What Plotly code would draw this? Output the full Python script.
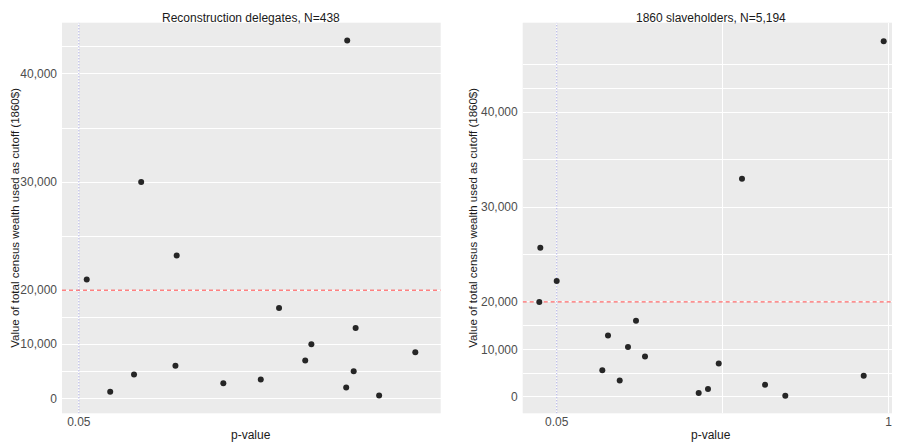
import numpy as np
import plotly.graph_objects as go

# ---------------- data ----------------
panel_titles = ["Reconstruction delegates, N=438", "1860 slaveholders, N=5,194"]

delegates_p = [0.0594, 0.0873, 0.1156, 0.1241, 0.1663, 0.1648, 0.2217, 0.2662, 0.2879,
               0.3190, 0.3263, 0.3689, 0.3677, 0.3789, 0.3766, 0.4068, 0.4498]
delegates_cutoff = [21000, 1200, 4400, 30000, 23200, 6000, 2800, 3500, 16700,
                    7000, 10000, 43100, 2000, 13000, 5000, 500, 8500]

slave_p = [0.0031, 0.0002, 0.0500, 0.1805, 0.1968, 0.2303, 0.2540, 0.2769, 0.3027,
           0.4563, 0.4829, 0.5136, 0.5802, 0.6461, 0.7041, 0.9285, 0.9857]
slave_cutoff = [25700, 20000, 22200, 5600, 12900, 3400, 10500, 16000, 8500,
                800, 1600, 7000, 33000, 2500, 200, 4400, 47500]

y_tick_values = [0, 10000, 20000, 30000, 40000]
y_tick_labels = ["0", "10,000", "20,000", "30,000", "40,000"]
y_minor_values = [5000, 15000, 25000, 35000, 42500, 45000]
x_tick_values = [0.05, 1]
x_tick_labels = ["0.05", "1"]
x_minor_values = [0.525]
cutoff_line = 20000
p_line = 0.05

x1_range = [0.030017, 0.47998]
x2_range = [-0.04729, 1.03233]
y1_range = [-2775, 69490]
y2_range = [-3502, 78900]


def to_display(v):
    """Axis of the reference: linear up to 20,000, double spacing above."""
    v = np.asarray(v, dtype=float)
    return np.where(v <= 20000, v, 2 * v - 20000)


# page body has an 8px margin: figure is drawn at (8, 8)
OFF = 8
W, H = 900 - OFF, 445 - OFF


def px_x(X):
    return (X - OFF) / W


def px_y(Y):
    return 1 - (Y - OFF) / H


FONT = "Liberation Sans, Arial, Helvetica, sans-serif"
PANEL_BG = "#EBEBEB"
TICK_COL = "#4D4D4D"
TITLE_COL = "#1A1A1A"

ydom = [px_y(413.3), px_y(22.7)]
x1dom = [px_x(62), px_x(440.7)]
x2dom = [px_x(522.7), 1.0]

fig = go.Figure()

panels = [
    ("x", "y", x1_range, y1_range, delegates_p, delegates_cutoff),
    ("x2", "y2", x2_range, y2_range, slave_p, slave_cutoff),
]
for xa, ya, xr, yr, px, cy in panels:
    yv = float(to_display(cutoff_line))
    fig.add_trace(go.Scatter(x=xr, y=[yv, yv], mode="lines", xaxis=xa, yaxis=ya,
                             line=dict(color="rgba(255,40,40,0.85)", width=1, dash="4px,3px"),
                             showlegend=False, hoverinfo="skip"))
    fig.add_trace(go.Scatter(x=[p_line, p_line], y=yr, mode="lines", xaxis=xa, yaxis=ya,
                             line=dict(color="rgba(120,120,210,0.8)", width=1, dash="1px,2px"),
                             showlegend=False, hoverinfo="skip"))
    fig.add_trace(go.Scatter(x=px, y=to_display(cy), mode="markers", xaxis=xa, yaxis=ya,
                             marker=dict(size=6, color="#262626"), showlegend=False))

common_y = dict(
    tickmode="array", tickvals=list(to_display(y_tick_values)), ticktext=y_tick_labels,
    showgrid=True, gridcolor="white", gridwidth=1.1, zeroline=False, ticks="",
    ticklabelstandoff=4, tickfont=dict(family=FONT, size=12, color=TICK_COL),
    minor=dict(tickmode="array", tickvals=list(to_display(y_minor_values)),
               showgrid=True, gridcolor="white", gridwidth=0.6, ticks=""),
    showline=False, domain=ydom, automargin=False,
)
common_x = dict(
    tickmode="array", tickvals=x_tick_values, ticktext=x_tick_labels,
    showgrid=True, gridcolor="white", gridwidth=1.1, zeroline=False, ticks="",
    ticklabelstandoff=0, tickfont=dict(family=FONT, size=12, color=TICK_COL),
    showline=False, automargin=False,
)

fig.update_layout(
    width=W, height=H,
    margin=dict(l=0, r=0, t=0, b=0, autoexpand=False),
    paper_bgcolor="white", plot_bgcolor=PANEL_BG,
    font=dict(family=FONT, size=12, color="black"),
    xaxis=dict(common_x, domain=x1dom, range=x1_range, anchor="y"),
    yaxis=dict(common_y, range=y1_range, anchor="x"),
    xaxis2=dict(common_x, domain=x2dom, range=x2_range, anchor="y2",
                minor=dict(tickmode="array", tickvals=x_minor_values, showgrid=True,
                           gridcolor="white", gridwidth=0.6, ticks="")),
    yaxis2=dict(common_y, range=y2_range, anchor="x2"),
)

# panel titles, axis titles
for dom, title in ((x1dom, panel_titles[0]), (x2dom, panel_titles[1])):
    cx = (dom[0] + dom[1]) / 2
    fig.add_annotation(text=title, x=cx, y=px_y(8.5), xref="paper", yref="paper",
                       showarrow=False, xanchor="center", yanchor="top",
                       font=dict(family=FONT, size=12, color=TITLE_COL))
    fig.add_annotation(text="p-value", x=cx, y=px_y(435), xref="paper", yref="paper",
                       showarrow=False, xanchor="center", yanchor="middle",
                       font=dict(family=FONT, size=12, color=TITLE_COL))

for X in (14.8, 472.7):
    fig.add_annotation(text="Value of total census wealth used as cutoff (1860$)",
                       x=px_x(X), y=px_y(218), xref="paper", yref="paper",
                       showarrow=False, textangle=-90, xanchor="center", yanchor="middle",
                       font=dict(family=FONT, size=11.5, color=TITLE_COL))

fig.write_html("out.html")
